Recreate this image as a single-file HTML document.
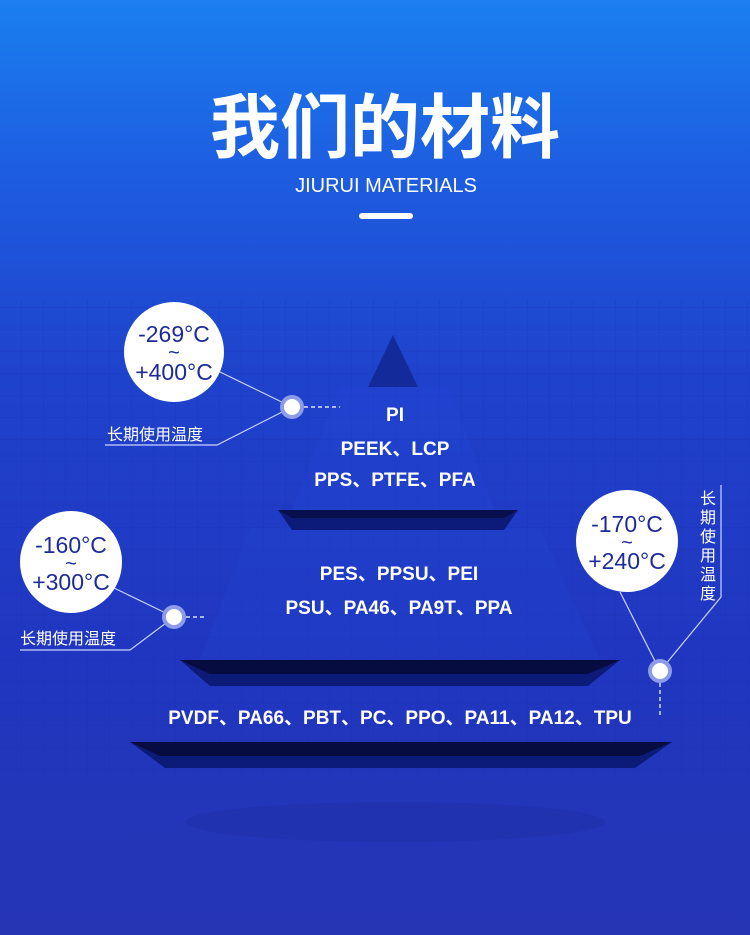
<!DOCTYPE html>
<html><head><meta charset="utf-8"><style>
html,body{margin:0;padding:0}
body{width:750px;height:935px;overflow:hidden;background:linear-gradient(180deg,#1a7ff0 0%,#1d5ee0 18%,#1f42cc 40%,#2036c0 70%,#2535b4 100%);position:relative;font-family:"Liberation Sans","Noto Sans CJK SC",sans-serif}
svg{position:absolute;left:0;top:0}
</style></head><body>
<svg width="750" height="935" viewBox="0 0 750 935" xmlns="http://www.w3.org/2000/svg">
<defs>
<pattern id="g" width="22" height="22" patternUnits="userSpaceOnUse"><path d="M22 0V22H0" fill="none" stroke="#1a2fa8" stroke-width="1" opacity="0.45"/></pattern>
</defs>
<rect x="0" y="300" width="750" height="480" fill="url(#g)" opacity="0.8"/>
<polygon points="393,335 418,387 368,387" fill="#132a9a"/>
<polygon points="340,387 448,387 495,510 292,510" fill="#2249d8" opacity="0.25"/>
<polygon points="250,528 540,528 600,660 200,660" fill="#2249d8" opacity="0.2"/>
<polygon points="278,510 518,510 504,530 292,530" fill="#0c1a78"/>
<polygon points="278,510 518,510 504,518 292,518" fill="#070f4c"/>
<polygon points="180,660 620,660 588,686 210,686" fill="#0c1a78"/>
<polygon points="180,660 620,660 588,674 210,674" fill="#060c40"/>
<polygon points="130,742 672,742 635,768 165,768" fill="#0c1a78"/>
<polygon points="130,742 672,742 640,756 160,756" fill="#060c40"/>
<ellipse cx="395" cy="822" rx="210" ry="20" fill="#1a2a9a" opacity="0.3"/>
<rect x="359" y="213" width="54" height="6" rx="3" fill="#fff"/>
<g stroke="#c9d4ff" stroke-width="1.2" fill="none">
<line x1="218" y1="371" x2="292" y2="407"/>
<polyline points="292,407 217,445 105,445"/>
<line x1="114" y1="588" x2="174" y2="617"/>
<polyline points="174,617 130,650 20,650"/>
<line x1="620" y1="592" x2="660" y2="671"/>
<polyline points="660,671 721,597 721,485"/>
</g>
<g stroke="#fff" stroke-width="1.2" stroke-dasharray="4,3" fill="none">
<line x1="304" y1="407" x2="340" y2="407"/>
<line x1="186" y1="617" x2="205" y2="617"/>
<line x1="660" y1="683" x2="660" y2="718"/>
</g>
<g><circle cx="292" cy="407" r="12" fill="#8d9ce8"/><circle cx="292" cy="407" r="8" fill="#fff"/>
<circle cx="174" cy="617" r="12" fill="#8d9ce8"/><circle cx="174" cy="617" r="8" fill="#fff"/>
<circle cx="660" cy="671" r="12" fill="#8d9ce8"/><circle cx="660" cy="671" r="8" fill="#fff"/></g>
<circle cx="174" cy="352" r="50" fill="#fff"/>
<circle cx="71" cy="562" r="51" fill="#fff"/>
<circle cx="627" cy="541" r="51" fill="#fff"/>
<g fill="#1c2a9a" font-size="23" text-anchor="middle" font-family="Liberation Sans,sans-serif">
<text x="174" y="342">-269°C</text><text x="174" y="359" font-size="20">~</text><text x="174" y="380">+400°C</text>
<text x="71" y="553">-160°C</text><text x="71" y="570" font-size="20">~</text><text x="71" y="590">+300°C</text>
<text x="627" y="532">-170°C</text><text x="627" y="549" font-size="20">~</text><text x="627" y="569">+240°C</text>
</g>
<g fill="#fff" font-family="Liberation Sans,Noto Sans CJK SC,sans-serif">
<text x="385" y="152" font-size="70" font-weight="bold" text-anchor="middle" font-family="Noto Sans CJK SC,sans-serif">我们的材料</text>
<text x="386" y="192" font-size="20" text-anchor="middle">JIURUI MATERIALS</text>
<text x="107" y="440" font-size="16">长期使用温度</text>
<text x="20" y="644" font-size="16">长期使用温度</text>
<g font-size="16" text-anchor="middle"><text x="708" y="504">长</text><text x="708" y="523">期</text><text x="708" y="542">使</text><text x="708" y="561">用</text><text x="708" y="580">温</text><text x="708" y="599">度</text></g>
<g font-size="19" font-weight="bold" text-anchor="middle">
<text x="395" y="421">PI</text>
<text x="395" y="455">PEEK、LCP</text>
<text x="395" y="486">PPS、PTFE、PFA</text>
<text x="399" y="580">PES、PPSU、PEI</text>
<text x="399" y="614">PSU、PA46、PA9T、PPA</text>
<text x="400" y="724">PVDF、PA66、PBT、PC、PPO、PA11、PA12、TPU</text>
</g></g>
</svg>
</body></html>
